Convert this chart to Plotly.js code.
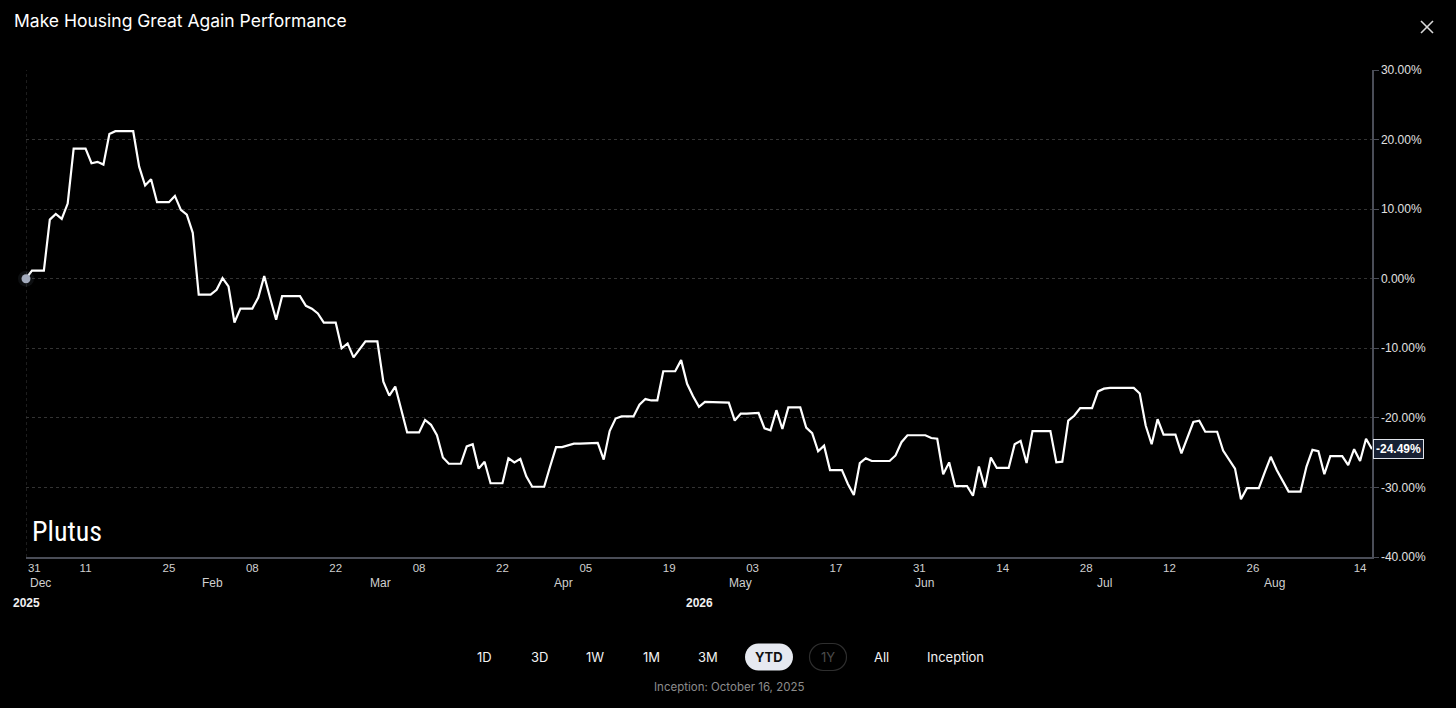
<!DOCTYPE html>
<html>
<head>
<meta charset="utf-8">
<script src="https://cdn.plot.ly/plotly-3.0.1.min.js"></script>
<style>
html,body{margin:0;padding:0;background:#000;}
#chart{width:1456px;height:708px;}
</style>
</head>
<body>
<div id="chart"></div>
<script>
// ---- data ----
const chartTitle = 'Make Housing Great Again Performance';
const performance = [
  0, 1.15, 1.15, 1.15, 8.5, 9.3, 8.6, 10.8, 18.7, 18.7,
  18.7, 16.6, 16.8, 16.4, 20.8, 21.2, 21.2, 21.2, 21.2, 16.1,
  13.4, 14.3, 11.0, 11.0, 11.0, 11.9, 9.9, 9.2, 6.6, -2.3,
  -2.3, -2.3, -1.6, 0.1, -1.1, -6.3, -4.3, -4.3, -4.3, -2.7,
  0.4, -2.8, -5.9, -2.5, -2.5, -2.5, -2.5, -3.9, -4.3, -5.0,
  -6.3, -6.3, -6.3, -10.0, -9.3, -11.3, -10.2, -9.0, -9.0, -9.0,
  -14.8, -16.8, -15.5, -18.8, -22.1, -22.1, -22.1, -20.3, -21.0, -22.5,
  -25.7, -26.6, -26.6, -26.6, -24.1, -23.8, -27.3, -26.3, -29.4, -29.4,
  -29.4, -25.8, -26.4, -25.9, -28.4, -29.9, -29.9, -29.9, -27.0, -24.2,
  -24.2, -23.9, -23.7, -23.7, -23.7, -23.7, -23.6, -26.0, -21.9, -20.1,
  -19.8, -19.8, -19.8, -18.1, -17.3, -17.5, -17.5, -13.3, -13.3, -13.3,
  -11.7, -15.1, -16.9, -18.4, -17.7, -17.7, -17.7, -17.7, -17.8, -20.4,
  -19.4, -19.4, -19.4, -19.3, -21.5, -21.8, -18.9, -21.6, -18.5, -18.5,
  -18.5, -21.4, -22.2, -24.8, -24.0, -27.5, -27.5, -27.5, -29.5, -31.1,
  -26.5, -25.8, -26.2, -26.2, -26.2, -26.2, -25.4, -23.5, -22.5, -22.5,
  -22.5, -22.5, -22.9, -23.0, -28.1, -26.4, -29.8, -29.8, -29.8, -31.2,
  -27.0, -30.0, -25.7, -27.2, -27.2, -27.2, -23.8, -23.3, -26.5, -21.9,
  -21.9, -21.9, -21.9, -26.4, -26.3, -20.4, -19.7, -18.6, -18.6, -18.6,
  -16.2, -15.8, -15.7, -15.7, -15.7, -15.7, -15.7, -16.5, -21.1, -23.8,
  -20.2, -22.4, -22.4, -22.4, -25.1, -22.8, -20.6, -20.4, -22.0, -22.0,
  -22.0, -24.7, -26.1, -27.3, -31.7, -30.1, -30.1, -30.1, -27.8, -25.6,
  -27.5, -29.0, -30.6, -30.6, -30.6, -27.0, -24.6, -24.8, -28.1, -25.5,
  -25.5, -25.5, -26.8, -24.5, -26.2, -23.0, -24.49
];
const dayIndex = performance.map((_, i) => i);

const dayTickLabels = ['31','11','25','08','22','08','22','05','19','03','17','31','14','28','12','26','14'];
const dayTickPos    = [1.4, 10, 24, 38, 52, 66, 80, 94, 108, 122, 136, 150, 164, 178, 192, 206, 224];
const monthLabels   = ['Dec','Feb','Mar','Apr','May','Jun','Jul','Aug'];
const monthPos      = [2.4, 31.3, 59.5, 90.3, 120, 150.9, 181.1, 209.7];
const yearLabels    = ['2025','2026'];
const yearPos       = [0.05, 113];
const yTickVals     = [-40, -30, -20, -10, 0, 10, 20, 30];
const yTickLabels   = ['-40.00%','-30.00%','-20.00%','-10.00%','0.00%','10.00%','20.00%','30.00%'];
const rangeButtons  = ['1D','3D','1W','1M','3M','YTD','1Y','All','Inception'];
const activeButton  = 'YTD';
const disabledButton= '1Y';
const inceptionNote = 'Inception: October 16, 2025';
const watermark     = 'Plutus';

// ---- layout helpers (pixel -> paper) ----
const W = 1456, H = 708;
const M = {l: 26, r: 84, t: 70, b: 151};
const PW = W - M.l - M.r, PH = H - M.t - M.b;
const px2x = px => (px - M.l) / PW;
const py2y = py => (H - M.b - py) / PH;

function pillPath(cx, cy, w, h) {
  const r = h / 2, k = 0.5523 * r;
  const x1 = cx - w / 2, x2 = cx + w / 2, y1 = cy - h / 2, y2 = cy + h / 2;
  const P = (x, y) => px2x(x).toFixed(5) + ',' + py2y(y).toFixed(5);
  return 'M' + P(x1 + r, y1) + ' L' + P(x2 - r, y1) +
    ' C' + P(x2 - r + k, y1) + ' ' + P(x2, cy - k) + ' ' + P(x2, cy) +
    ' C' + P(x2, cy + k) + ' ' + P(x2 - r + k, y2) + ' ' + P(x2 - r, y2) +
    ' L' + P(x1 + r, y2) +
    ' C' + P(x1 + r - k, y2) + ' ' + P(x1, cy + k) + ' ' + P(x1, cy) +
    ' C' + P(x1, cy - k) + ' ' + P(x1 + r - k, y1) + ' ' + P(x1 + r, y1) + ' Z';
}

const last = performance.length - 1;

const traces = [
  {
    x: dayIndex, y: performance, type: 'scatter', mode: 'lines',
    line: {color: '#ffffff', width: 2.2}, cliponaxis: false, hoverinfo: 'skip'
  },
  {
    x: [dayIndex[0]], y: [performance[0]], type: 'scatter', mode: 'markers',
    marker: {size: 16, color: 'rgba(110,120,140,0.12)'}, cliponaxis: false, hoverinfo: 'skip'
  },
  {
    x: [dayIndex[0]], y: [performance[0]], type: 'scatter', mode: 'markers',
    marker: {size: 9, color: '#a3abbd'}, cliponaxis: false, hoverinfo: 'skip'
  }
];

const uiFont = 'Inter, "Noto Sans", sans-serif';
const axFont = '"Liberation Sans", Arial, sans-serif';

const annotations = [];
monthLabels.forEach((m, i) => annotations.push({
  x: monthPos[i], xref: 'x', y: py2y(583), yref: 'paper', text: m, showarrow: false,
  xanchor: 'center', yanchor: 'middle', font: {family: axFont, size: 12, color: '#d0d0d0'}
}));
yearLabels.forEach((t, i) => annotations.push({
  x: yearPos[i], xref: 'x', y: py2y(603), yref: 'paper', text: '<b>' + t + '</b>', showarrow: false,
  xanchor: 'center', yanchor: 'middle', font: {family: axFont, size: 12, color: '#f0f0f0'}
}));
annotations.push({
  x: dayIndex[last], xref: 'x', y: performance[last], yref: 'y',
  text: '<b>' + performance[last].toFixed(2) + '%</b>', showarrow: false, xanchor: 'left', yanchor: 'middle', xshift: 1,
  bgcolor: '#172033', bordercolor: '#dfe3ea', borderwidth: 1, borderpad: 2,
  font: {family: axFont, size: 12, color: '#ffffff'}
});
annotations.push({
  x: px2x(30), xref: 'paper', y: py2y(531), yref: 'paper', text: watermark, showarrow: false,
  xanchor: 'left', yanchor: 'middle', font: {family: '"Liberation Sans Narrow", "Roboto Condensed", Roboto, sans-serif', size: 28, color: '#ffffff'}
});
const btnCenters = [484, 539, 595, 651, 708, 769, 828, 881, 955];
rangeButtons.forEach((b, i) => annotations.push({
  x: px2x(btnCenters[i]), xref: 'paper', y: py2y(657), yref: 'paper',
  text: b === activeButton ? '<b>' + b + '</b>' : b, showarrow: false, xanchor: 'center', yanchor: 'middle',
  font: {family: uiFont, size: 13, color: b === activeButton ? '#111111' : (b === disabledButton ? '#4a4a4a' : '#f2f2f2')}
}));
annotations.push({
  x: px2x(729), xref: 'paper', y: py2y(687), yref: 'paper', text: inceptionNote, showarrow: false,
  xanchor: 'center', yanchor: 'middle', font: {family: uiFont, size: 11.5, color: '#8c8c8c'}
});

const shapes = [
  {type: 'line', xref: 'x', yref: 'paper', x0: 0, x1: 0, y0: 0, y1: 1,
   line: {color: '#3a3a3a', width: 1, dash: 'dot'}, layer: 'below'},
  {type: 'path', xref: 'paper', yref: 'paper', path: pillPath(769, 657, 48, 27),
   fillcolor: '#e6e9f0', line: {width: 0}},
  {type: 'path', xref: 'paper', yref: 'paper', path: pillPath(828, 657, 37, 27),
   fillcolor: 'rgba(0,0,0,0)', line: {color: '#2e2e2e', width: 1.2}},
  {type: 'line', xref: 'paper', yref: 'paper', x0: px2x(1421), y0: py2y(21), x1: px2x(1433), y1: py2y(33),
   line: {color: '#d8d8d8', width: 1.6}},
  {type: 'line', xref: 'paper', yref: 'paper', x0: px2x(1421), y0: py2y(33), x1: px2x(1433), y1: py2y(21),
   line: {color: '#d8d8d8', width: 1.6}}
];

const layout = {
  width: W, height: H,
  margin: M,
  paper_bgcolor: '#000000', plot_bgcolor: '#000000',
  showlegend: false,
  title: {
    text: chartTitle, xref: 'container', yref: 'container',
    x: 14 / W, xanchor: 'left', y: 1 - 21 / H, yanchor: 'middle',
    font: {family: uiFont, size: 17.5, color: '#ffffff'}
  },
  xaxis: {
    range: [0, last], showgrid: false, zeroline: false,
    showline: true, linecolor: '#4a4d57', linewidth: 1.5,
    tickmode: 'array', tickvals: dayTickPos, ticktext: dayTickLabels,
    ticks: '', tickfont: {family: axFont, size: 11.5, color: '#d0d0d0'}
  },
  yaxis: {
    range: [-40, 30], side: 'right', zeroline: false,
    showgrid: true, gridcolor: '#333333', griddash: '3px,3px', gridwidth: 1,
    showline: true, linecolor: '#4a4d57', linewidth: 1.5,
    ticks: 'outside', ticklen: 5, tickcolor: '#4a4d57',
    tickmode: 'array', tickvals: yTickVals, ticktext: yTickLabels,
    tickfont: {family: axFont, size: 12, color: '#e0e0e0'}
  },
  annotations: annotations,
  shapes: shapes
};

Plotly.newPlot('chart', traces, layout, {staticPlot: true, displayModeBar: false});
</script>
</body>
</html>
